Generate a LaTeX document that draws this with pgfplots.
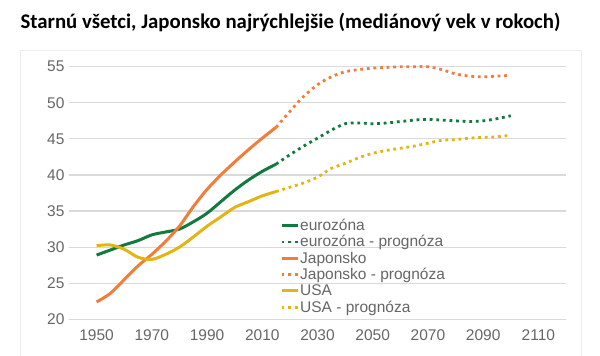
\documentclass[border=0pt]{standalone}
\usepackage{pgfplots}
\pgfplotsset{compat=1.18}
\usepackage{fontspec}
\setmainfont{Liberation Sans}
\newfontfamily\titlefont{Carlito}
\definecolor{cgreen}{HTML}{137A3F}
\definecolor{corange}{HTML}{F07D3A}
\definecolor{cyellow}{HTML}{E2B512}
\definecolor{cgrid}{HTML}{DADADA}
\definecolor{ctext}{HTML}{666666}
\begin{document}
\begin{tikzpicture}
\useasboundingbox (0pt,-356pt) rectangle (600pt,0pt);
\draw[color=black!7, line width=0.8pt] (20pt,-380pt) -- (20pt,-50pt) -- (581pt,-50pt) -- (581pt,-380pt);
\node[anchor=base, font=\titlefont\bfseries\fontsize{20.8}{24}\selectfont] at (290.5pt,-28pt) {Starnú všetci, Japonsko najrýchlejšie (mediánový vek v rokoch)};
\begin{axis}[
  at={(69pt,-319.3pt)}, anchor=south west,
  scale only axis, width=497pt, height=252.6pt,
  xmin=1940, xmax=2120, ymin=20, ymax=55,
  xtick={1950,1970,...,2110}, ytick={20,25,...,55},
  axis line style={draw=none},
  tick style={draw=none},
  ymajorgrids, grid style={cgrid, line width=1.2pt},
  ticklabel style={font=\fontsize{15.5}{18}\selectfont, text=ctext},
  xticklabel style={yshift=-7pt},
  yticklabel style={xshift=-1pt},
  /pgf/number format/assume math mode=true,
  /pgf/number format/1000 sep={},
  clip=false,
  legend cell align=left,
  legend style={at={(rel axis cs:0.4245,0.402)}, anchor=north west, draw=none, fill=none,
    font=\fontsize{15.5}{16}\selectfont, text=ctext, inner sep=0pt, row sep=1.6pt,
    nodes={inner sep=1pt}},
  legend image code/.code={\draw[#1] (0pt,0pt) -- (16pt,0pt);},
  solid/.style={line width=3pt, smooth, tension=0.5},
  fc/.style={line width=2.8pt, smooth, tension=0.5, dash pattern=on 2.8pt off 3.8pt},
]
\addplot[cgreen, solid] coordinates {(1950,28.9)(1955,29.6)(1960,30.3)(1965,30.9)(1970,31.7)(1975,32.1)(1980,32.5)(1985,33.5)(1990,34.7)(1995,36.3)(2000,37.9)(2005,39.3)(2010,40.5)(2015,41.5)};
\addlegendentry{eurozóna}
\addplot[cgreen, fc] coordinates {(2015,41.5)(2020,42.8)(2025,44.0)(2030,45.1)(2035,46.2)(2040,47.1)(2045,47.2)(2050,47.1)(2055,47.2)(2060,47.4)(2065,47.6)(2070,47.7)(2075,47.6)(2080,47.5)(2085,47.4)(2090,47.5)(2095,47.8)(2100,48.2)};
\addlegendentry{eurozóna - prognóza}
\addplot[corange, solid] coordinates {(1950,22.4)(1955,23.6)(1960,25.5)(1965,27.4)(1970,29.0)(1975,30.8)(1980,32.9)(1985,35.6)(1990,38.0)(1995,40.0)(2000,41.8)(2005,43.5)(2010,45.1)(2015,46.6)};
\addlegendentry{Japonsko}
\addplot[corange, fc] coordinates {(2015,46.6)(2020,48.8)(2025,50.9)(2030,52.5)(2035,53.6)(2040,54.3)(2045,54.6)(2050,54.8)(2055,54.9)(2060,55.0)(2065,55.0)(2070,55.0)(2075,54.6)(2080,54.0)(2085,53.7)(2090,53.6)(2095,53.7)(2100,53.8)};
\addlegendentry{Japonsko - prognóza}
\addplot[cyellow, solid] coordinates {(1950,30.2)(1955,30.3)(1960,29.7)(1965,28.6)(1970,28.3)(1975,29.0)(1980,30.0)(1985,31.4)(1990,32.9)(1995,34.2)(2000,35.5)(2005,36.3)(2010,37.1)(2015,37.7)};
\addlegendentry{USA}
\addplot[cyellow, fc] coordinates {(2015,37.7)(2020,38.3)(2025,38.9)(2030,39.7)(2035,40.9)(2040,41.6)(2045,42.4)(2050,43.0)(2055,43.4)(2060,43.7)(2065,44.0)(2070,44.4)(2075,44.8)(2080,44.9)(2085,45.1)(2090,45.2)(2095,45.3)(2100,45.5)};
\addlegendentry{USA - prognóza}
\end{axis}
\end{tikzpicture}
\end{document}
